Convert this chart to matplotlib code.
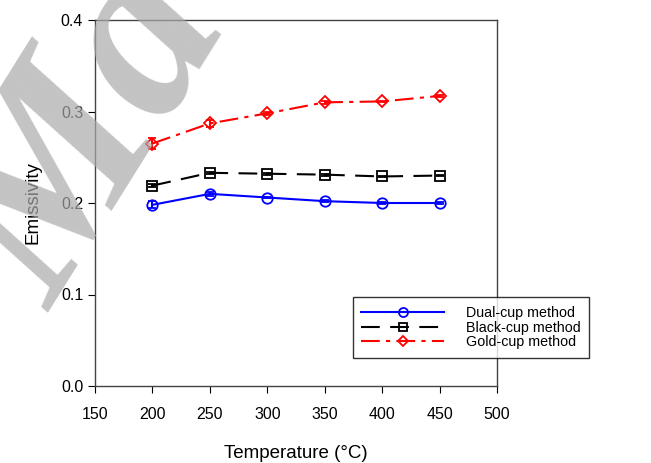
import matplotlib
matplotlib.use("Agg")
import matplotlib.pyplot as plt
from matplotlib.lines import Line2D

plt.rcParams['font.family'] = ['Liberation Sans', 'DejaVu Sans']

temps = [200, 250, 300, 350, 400, 450]
dual_cup = [0.198, 0.210, 0.206, 0.202, 0.200, 0.200]
dual_err = [0.004, 0.002, 0.001, 0.001, 0.001, 0.001]
black_cup = [0.219, 0.233, 0.232, 0.231, 0.229, 0.230]
black_err = [0.002, 0.001, 0.001, 0.001, 0.001, 0.001]
gold_cup = [0.265, 0.287, 0.298, 0.310, 0.311, 0.317]
gold_err = [0.006, 0.004, 0.002, 0.002, 0.001, 0.001]
labels = ['Dual-cup method', 'Black-cup method', 'Gold-cup method']


def make_plot():
    fig = plt.figure(figsize=(6.51, 4.63), dpi=100)
    ax = fig.add_axes([95 / 651, 1 - 386 / 463, 402 / 651, 366 / 463])

    # faint watermark behind the chart
    fig.text(0.14, 0.70, 'Ma', fontsize=175, family='Liberation Serif', style='italic',
             fontweight='bold', color='#aaaaaa', alpha=0.7, rotation=58,
             ha='center', va='center', zorder=0)

    styles = [
        dict(color='blue', ls='-', marker='o', ms=7.5),
        dict(color='black', ls=(0, (9, 5)), marker='s', ms=7),
        dict(color='red', ls=(0, (9, 3, 2, 3)), marker='D', ms=6.5),
    ]
    handles = []
    for y, err, st, lab in zip([dual_cup, black_cup, gold_cup],
                               [dual_err, black_err, gold_err], styles, labels):
        ax.errorbar(temps, y, yerr=err, color=st['color'], ls=st['ls'], lw=1.5,
                    marker=st['marker'], ms=st['ms'], mfc='none', mew=1.3, capsize=3)
        handles.append(Line2D([], [], color=st['color'], ls=st['ls'], lw=1.5,
                              marker=st['marker'], ms=st['ms'] - 1, mfc='none', mew=1.3))

    ax.set_xlim(150, 500)
    ax.set_ylim(0, 0.4)
    ax.set_xticks(range(150, 501, 50))
    ax.set_yticks([0.0, 0.1, 0.2, 0.3, 0.4])
    ax.set_yticklabels(['0.0', '0.1', '0.2', '0.3', '0.4'])
    ax.tick_params(direction='out', length=5, labelsize=11.5, top=False, right=False)
    ax.tick_params(axis='x', pad=10)
    ax.set_xlabel('Temperature (°C)', fontsize=13.5, labelpad=17)
    ax.set_ylabel('Emissivity', fontsize=13.5, labelpad=14)
    for s in ax.spines.values():
        s.set_linewidth(1.0)
        s.set_color('#444444')
    ax.patch.set_alpha(0)

    leg = ax.legend(handles, labels, loc='lower right',
                    bbox_to_anchor=(589 / 651, 1 - 358 / 463),
                    bbox_transform=fig.transFigure, borderaxespad=0,
                    fontsize=10.3, frameon=True, fancybox=False, edgecolor='black',
                    handlelength=5.8, labelspacing=0.05, borderpad=0.6,
                    handletextpad=1.5)
    leg.get_frame().set_linewidth(1.0)

    plt.savefig('out.png', dpi=100)


def main():
    make_plot()


if __name__ == '__main__':
    main()
